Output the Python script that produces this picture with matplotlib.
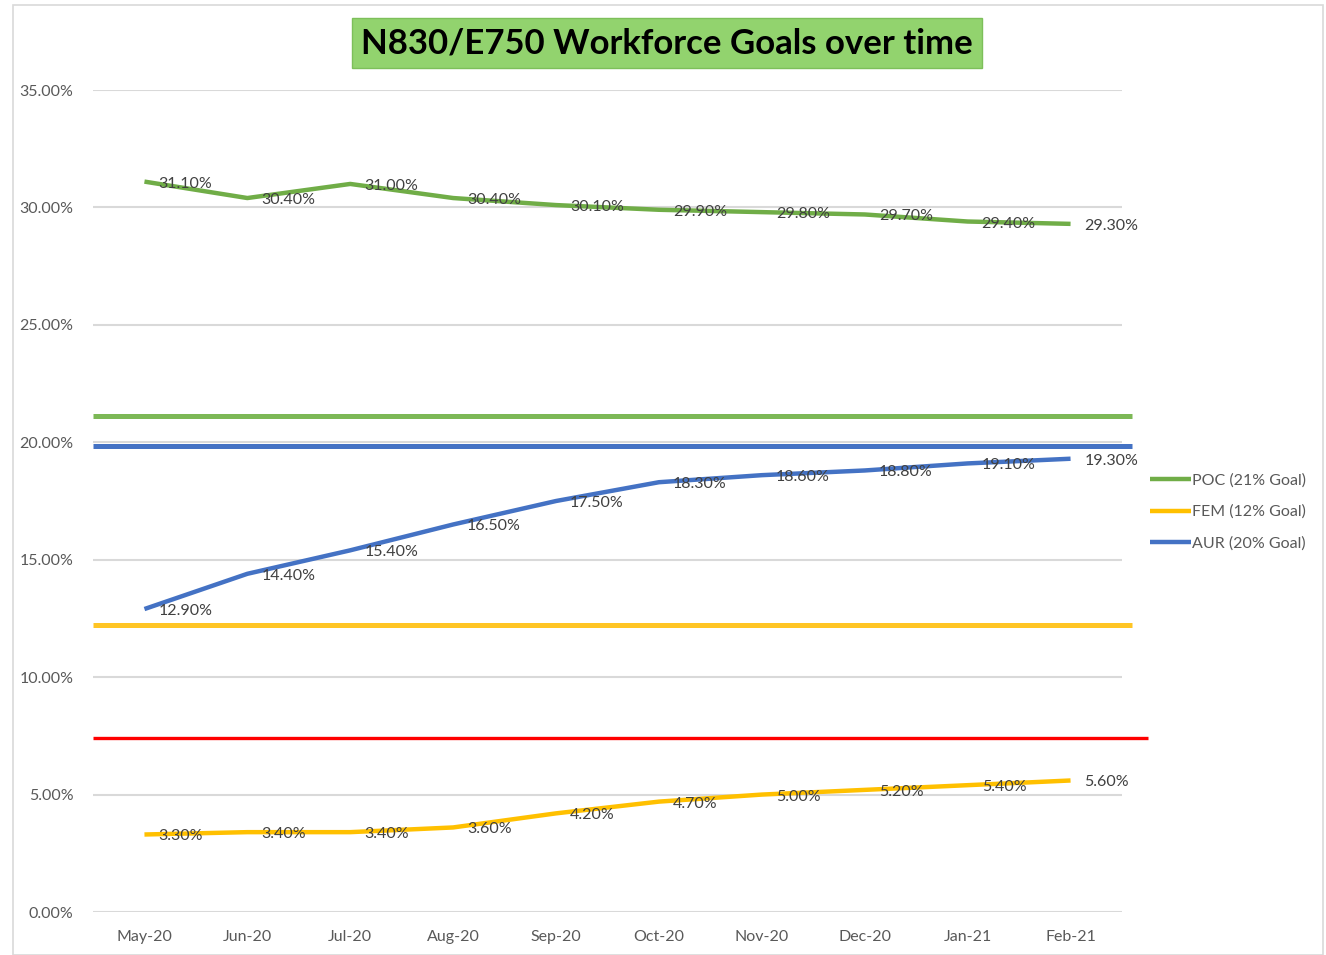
import matplotlib.pyplot as plt
from matplotlib.patches import Rectangle
from matplotlib.ticker import FuncFormatter

plt.rcParams['font.family'] = ['Lato', 'DejaVu Sans']

months = ['May-20', 'Jun-20', 'Jul-20', 'Aug-20', 'Sep-20', 'Oct-20',
          'Nov-20', 'Dec-20', 'Jan-21', 'Feb-21']
poc = [31.1, 30.4, 31.0, 30.4, 30.1, 29.9, 29.8, 29.7, 29.4, 29.3]
fem = [3.3, 3.4, 3.4, 3.6, 4.2, 4.7, 5.0, 5.2, 5.4, 5.6]
aur = [12.9, 14.4, 15.4, 16.5, 17.5, 18.3, 18.6, 18.8, 19.1, 19.3]
series_names = ['POC (21% Goal)', 'FEM (12% Goal)', 'AUR (20% Goal)']

# goal bars drawn across the plot (level, colour, right end)
goal_levels = [21.1, 19.85, 12.2, 7.4]
goal_colors = ['#7CB856', '#4472C4', '#FFC524', '#FF0000']
goal_ends = [9.6, 9.6, 9.6, 9.75]
goal_widths = [3.6, 3.6, 3.6, 2.4]

fig = plt.figure(figsize=(13.26, 9.55), dpi=100)
ax = fig.add_axes([93 / 1326, 43 / 955, 1029 / 1326, 822 / 955])

x = list(range(len(months)))
colors = ['#70AD47', '#FFC000', '#4472C4']
for vals, c, name in zip([poc, fem, aur], colors, series_names):
    ax.plot(x, vals, color=c, lw=3.2, label=name, solid_capstyle='butt', zorder=3)
    for xi, v in zip(x, vals):
        ax.annotate(f'{v:.2f}%', (xi, v), xytext=(14, -2), textcoords='offset pixels',
                    ha='left', va='center', fontsize=11.5, color='#404040', zorder=4)

for lvl, c, end, w in zip(goal_levels, goal_colors, goal_ends, goal_widths):
    ax.plot([-0.5, end], [lvl, lvl], color=c, lw=w, solid_capstyle='butt',
            clip_on=False, zorder=2)

ax.set_xlim(-0.5, 9.5)
ax.set_ylim(0, 35)
ax.set_yticks(range(0, 36, 5))
ax.yaxis.set_major_formatter(FuncFormatter(lambda v, p: f'{v:.2f}%'))
ax.set_xticks(x)
ax.set_xticklabels(months)
ax.tick_params(length=0, labelsize=11.5, labelcolor='#595959')
ax.tick_params(axis='x', pad=13)
ax.tick_params(axis='y', pad=14)
ax.grid(axis='y', color='#D9D9D9', lw=1.5)
ax.set_axisbelow(True)
for s in ax.spines.values():
    s.set_visible(False)

ax.legend(loc='center left', bbox_to_anchor=(1150 / 1326, 1 - 512 / 955),
          bbox_transform=fig.transFigure, borderaxespad=0, borderpad=0,
          frameon=False, fontsize=11.5, labelcolor='#595959', handlelength=2.55,
          handletextpad=0.1, labelspacing=1.05)

# title box
fig.text(667 / 1326, 1 - 43 / 955, 'N830/E750 Workforce Goals over time', ha='center',
         va='center', fontsize=25, fontweight='bold', color='black',
         bbox=dict(boxstyle='square,pad=0.25', fc='#92D36E', ec='#7DBF5A', lw=1))

# outer frame
fig.patches.append(Rectangle((13 / 1326, 0), 1310 / 1326, 1 - 5 / 955, transform=fig.transFigure,
                             fill=False, ec='#D9D9D9', lw=1.2))

fig.savefig('out.png', dpi=100)
